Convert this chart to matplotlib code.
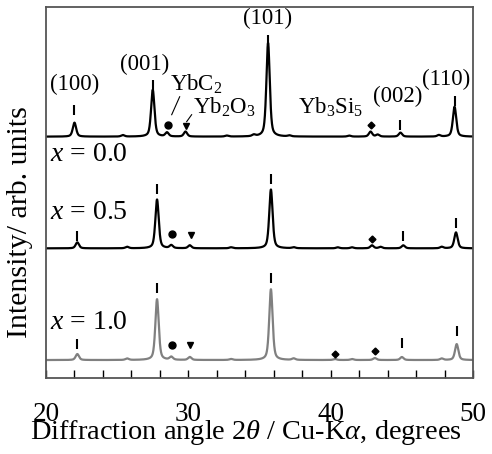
import numpy as np
import matplotlib
matplotlib.use("Agg")
import matplotlib.pyplot as plt

plt.rcParams['font.family'] = ['Liberation Serif', 'DejaVu Serif']
plt.rcParams['mathtext.fontset'] = 'custom'
plt.rcParams['mathtext.rm'] = 'Liberation Serif'
plt.rcParams['mathtext.it'] = 'Liberation Serif:italic'

# peak lists: position (2theta, deg) and height (arb.)
pos_00 = [22.0, 25.4, 27.5, 28.5, 29.8, 32.7, 34.6, 35.6, 37.1, 41.3, 42.8, 43.3, 44.9, 47.6, 48.7]
hgt_00 = [14, 1.5, 47, 4, 5, 1, 1.5, 94, 1, 1, 5, 2, 4, 1.5, 30]
pos_05 = [22.2, 25.7, 27.8, 28.8, 30.1, 33.0, 35.8, 37.4, 40.5, 41.5, 42.9, 43.5, 45.1, 47.8, 48.8]
hgt_05 = [6, 1.5, 49, 3, 3, 1, 59, 1, 1, 1, 3, 1.5, 3, 1.5, 16]
pos_10 = [22.2, 25.7, 27.8, 28.8, 30.1, 33.0, 35.8, 37.4, 40.3, 41.5, 43.1, 45.0, 47.8, 48.85]
hgt_10 = [6, 1.5, 61, 3, 3, 1, 71, 1.5, 1, 1, 2, 3, 1.5, 16]
offsets = [242, 130, 18]
colors = ['black', 'black', '#808080']
sample_labels = ['$x$ = 0.0', '$x$ = 0.5', '$x$ = 1.0']
label_y = [224, 166, 56]

# reflection ticks (hkl) for each trace
tick_x = [[22.0, 27.5, 35.6, 44.9, 48.7],
          [22.2, 27.8, 35.8, 45.1, 48.8],
          [22.2, 27.8, 35.8, 45.0, 48.85]]
tick_y = [[269, 294, 339, 254, 278],
          [142, 190, 200, 142, 155],
          [34, 90, 100, 35, 47]]
dot_x = [28.55, 28.83, 28.83]
dot_y = [254, 144, 33]
tri_x = [29.8, 30.16, 30.1]
tri_y = [253, 143, 33]
dia_x = [42.8, 42.9, 40.3, 43.1]
dia_y = [254, 139, 24, 27]

hkl_text = ['(100)', '(001)', '(101)', '(002)', '(110)']
hkl_x = [22.0, 26.9, 35.55, 44.7, 48.1]
hkl_y = [294, 314, 361, 282, 299]


def profile(x, pos, hgt, w=0.14):
    y = np.zeros_like(x)
    for p, h in zip(pos, hgt):
        lor = 1 / (1 + ((x - p) / w) ** 2)
        gau = np.exp(-np.log(2) * ((x - p) / w) ** 2)
        y += h * (0.5 * lor + 0.5 * gau)
    return y


x = np.linspace(20, 50, 3000)
fig = plt.figure(figsize=(4.92, 4.54), dpi=100)
ax = fig.add_axes([0.0935, 0.1674, 0.868, 0.8172])

for pos, hgt, off, c in zip([pos_00, pos_05, pos_10], [hgt_00, hgt_05, hgt_10], offsets, colors):
    ax.plot(x, profile(x, pos, hgt) + off, color=c, lw=1.6)

for tx, ty in zip(tick_x, tick_y):
    ax.plot(tx, ty, ls='none', marker='|', ms=7, mew=1.5, color='black')
ax.plot(dot_x, dot_y, ls='none', marker='o', ms=5, color='black')
ax.plot(tri_x, tri_y, ls='none', marker='v', ms=5, color='black')
ax.plot(dia_x, dia_y, ls='none', marker='D', ms=3.5, color='black')

for t, hx, hy in zip(hkl_text, hkl_x, hkl_y):
    ax.text(hx, hy, t, fontsize=16.5, ha='center', va='center')
ax.text(28.7, 294, 'YbC$_2$', fontsize=16.5, ha='left', va='center')
ax.text(30.3, 271, 'Yb$_2$O$_3$', fontsize=16.5, ha='left', va='center')
ax.text(40.0, 271, 'Yb$_3$Si$_5$', fontsize=16.5, ha='center', va='center')
ax.plot([29.39, 28.83], [282, 264], color='black', lw=0.8)
ax.plot([30.23, 29.88], [264, 257], color='black', lw=0.8)

for lab, ly in zip(sample_labels, label_y):
    ax.text(20.3, ly, lab, fontsize=20, ha='left', va='center')

ax.set_xlim(20, 50)
ax.set_ylim(0, 372)
ax.set_xticks([20, 30, 40, 50])
ax.set_xticks(np.arange(22, 50, 2), minor=True)
ax.set_yticks([])
ax.tick_params(axis='x', which='both', direction='in', length=6, width=1, pad=17, labelsize=19.5)
for s in ax.spines.values():
    s.set_color('#555555')
    s.set_linewidth(1.3)

ax.set_xlabel(r'Diffraction angle 2$\it{\theta}$ / Cu-K$\it{\alpha}$, degrees', fontsize=20.4)
ax.xaxis.set_label_coords(0.467, -0.108)
ax.set_ylabel('Intensity/ arb. units', fontsize=21.5)
ax.yaxis.set_label_coords(-0.03, 0.42)

fig.savefig('out.png', dpi=100)
